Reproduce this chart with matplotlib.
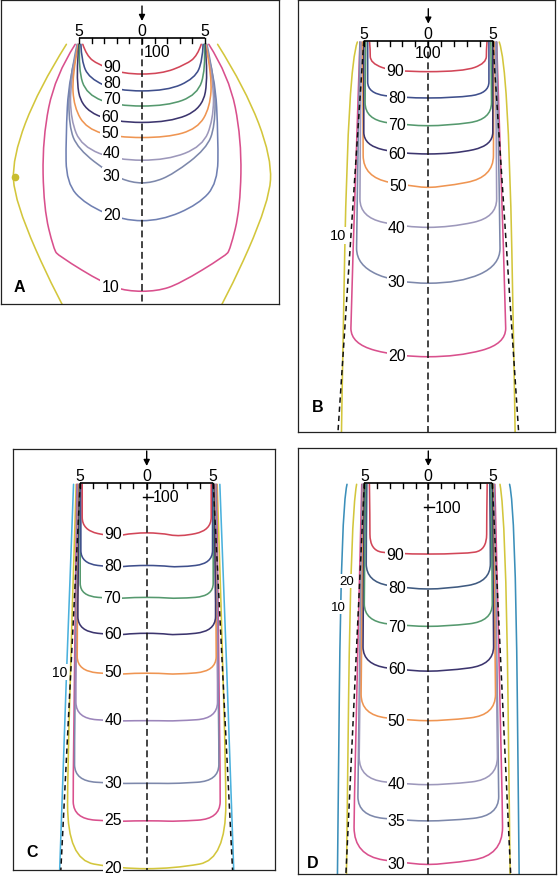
import matplotlib
matplotlib.use('Agg')
import matplotlib.pyplot as plt
from matplotlib.path import Path
from matplotlib.patches import PathPatch

plt.rcParams['font.family'] = ['Liberation Sans', 'DejaVu Sans']

W, H = 558, 879

# ---------------- colours ----------------
RED = '#d24658'; BLUE80 = '#3f4f8c'; GREEN = '#55996e'; NAVY = '#3c356e'
ORANGE = '#ef9552'; LAV = '#9d98bb'; SLATE = '#7d88ab'; SLATE20 = '#7080b2'
PINK = '#d9508d'; YELLOW = '#d3c63c'; CYAN = '#4bb1dd'; TEAL = '#3b8fba'

# ---------------- panel A ----------------
A_levels = ['90', '80', '70', '60', '50', '40', '30', '20', '10', '']
A_colors = [RED, BLUE80, GREEN, NAVY, ORANGE, LAV, SLATE, SLATE20, PINK, YELLOW]
A_curves = [
    [(4.7, 0.5), (4.4, 1.4), (3.5, 2.1), (1.5, 2.86)],
    [(4.85, 0.5), (4.8, 1.8), (4.2, 3.2), (2.0, 4.2)],
    [(4.95, 0.5), (5.05, 2.5), (4.4, 4.5), (2.0, 5.4)],
    [(5.0, 0.5), (5.25, 3.0), (4.8, 5.6), (2.2, 6.7)],
    [(5.05, 0.5), (5.55, 3.0), (5.4, 5.5), (4.4, 7.2), (2.0, 7.9)],
    [(5.1, 0.5), (5.7, 3.5), (5.65, 6.5), (4.8, 8.6), (2.0, 9.7)],
    [(5.15, 0.5), (5.8, 3.5), (5.8, 7.0), (5.1, 8.8), (2.5, 10.8), (0.8, 11.5)],
    [(5.0, 0.5), (5.8, 3.0), (6.05, 8.0), (6.0, 11.5), (4.5, 13.2), (1.5, 14.5)],
    [(5.3, 0.5), (6.9, 3.0), (7.9, 8.0), (7.8, 13.5), (7.0, 16.8), (6.6, 17.3),
     (3.0, 19.5), (1.2, 20.1)],
    [(6.0, 0.5), (8.2, 4.0), (10.3, 9.5), (10.1, 13.0), (6.8, 20.5), (3.5, 26.0), (1.0, 27.0)],
]
A_label_xy = [(-2.4, 2.3), (-2.4, 3.5), (-2.4, 4.8), (-2.5, 6.2), (-2.5, 7.5),
              (-2.4, 9.1), (-2.4, 10.9), (-2.4, 14.0), (-2.5, 19.7), None]
A_dot = (-10.1, 11.0)

# ---------------- panel B ----------------
B_levels = ['90', '80', '70', '60', '50', '40', '30', '20', '10']
B_colors = [RED, BLUE80, GREEN, NAVY, ORANGE, LAV, SLATE, PINK, YELLOW]
B_curves = [
    [(4.55, 0.1), (4.5, 0.7), (4.5, 1.74), (2.7, 2.4)],
    [(4.7, 0.1), (4.7, 2.32), (4.7, 4.08), (2.0, 4.44)],
    [(4.85, 0.1), (4.9, 3.5), (4.9, 6.11), (1.5, 6.59)],
    [(5.0, 0.1), (5.0, 6.08), (5.0, 8.12), (2.0, 8.78)],
    [(5.1, 0.1), (5.05, 7.2), (5.05, 10.59), (0.95, 11.37)],
    [(5.2, 0.1), (5.3, 10.85), (5.3, 13.69), (1.7, 14.47)],
    [(5.3, 0.1), (5.56, 14.8), (5.56, 17.4), (2.44, 18.8)],
    [(5.3, 0.1), (6.0, 21.1), (6.0, 23.5), (2.3, 24.5)],
    [(5.5, 0.1), (6.2, 2.0), (6.75, 30.5), (6.8, 36.0), (1.0, 36.0)],
]
B_label_xy = [(-2.6, 2.33), (-2.45, 4.39), (-2.45, 6.5), (-2.45, 8.73), (-2.36, 11.2),
              (-2.45, 14.47), (-2.45, 18.7), (-2.45, 24.4), (-6.98, 15.1)]
B_edge_slope = 0.066

# ---------------- panel C ----------------
C_levels = ['90', '80', '70', '60', '50', '40', '30', '25', '20', '10']
C_colors = [RED, BLUE80, GREEN, NAVY, ORANGE, '#9c86bb', SLATE, PINK, YELLOW, CYAN]
C_curves = [
    [(4.85, 0.1), (4.85, 1.6), (4.85, 3.55), (2.5, 4.05), (1.0, 3.75)],
    [(4.95, 0.1), (4.95, 4.1), (4.95, 6.05), (2.4, 6.35), (1.0, 6.2)],
    [(5.0, 0.1), (5.0, 6.6), (5.0, 8.5), (2.3, 8.7), (1.0, 8.6)],
    [(5.05, 0.1), (5.2, 9.0), (5.15, 11.15), (2.2, 11.45), (1.0, 11.3)],
    [(5.1, 0.1), (5.25, 12.0), (5.2, 14.15), (2.2, 14.4), (1.0, 14.3)],
    [(5.15, 0.1), (5.35, 15.3), (5.3, 17.7), (2.2, 17.9), (1.0, 17.87)],
    [(5.2, 0.1), (5.45, 20.0), (5.4, 22.4), (2.2, 22.6), (1.0, 22.58)],
    [(5.25, 0.1), (5.55, 22.7), (5.5, 25.25), (2.2, 25.45), (1.0, 25.4)],
    [(5.3, 0.1), (5.95, 20.0), (5.95, 28.3), (2.0, 29.0)],
    [(5.5, 0.1), (6.7, 32.0), (6.8, 40.0), (1.0, 40.0)],
]
C_label_xy = [(-2.51, 3.78), (-2.51, 6.22), (-2.6, 8.6), (-2.51, 11.3), (-2.51, 14.2),
              (-2.51, 17.8), (-2.51, 22.5), (-2.51, 25.3), (-2.51, 28.9), (-6.52, 14.2)]
C_edge_slope = 0.05

# ---------------- panel D ----------------
D_levels = ['90', '80', '70', '60', '50', '40', '35', '30', '20', '10']
D_colors = [RED, '#3f5a80', GREEN, NAVY, ORANGE, LAV, SLATE, PINK, YELLOW, TEAL]
D_curves = [
    [(4.6, 0.1), (4.56, 2.75), (4.56, 5.25), (2.74, 5.55)],
    [(4.8, 0.1), (4.85, 4.9), (4.85, 7.72), (1.4, 8.28)],
    [(4.9, 0.1), (5.0, 8.1), (5.0, 10.8), (1.4, 11.2)],
    [(5.0, 0.1), (5.1, 11.4), (5.1, 14.2), (1.3, 14.7)],
    [(5.05, 0.1), (5.25, 14.9), (5.25, 18.13), (1.3, 18.57)],
    [(5.1, 0.1), (5.4, 19.7), (5.4, 23.13), (1.4, 23.57)],
    [(5.15, 0.1), (5.5, 23.0), (5.5, 26.0), (1.5, 26.4)],
    [(5.2, 0.1), (5.8, 24.7), (5.8, 29.1), (1.2, 29.8)],
    [(5.6, 0.1), (6.05, 2.5), (6.4, 31.0), (6.5, 40.0), (1.0, 40.0)],
    [(6.35, 0.1), (6.8, 2.0), (7.1, 31.0), (7.2, 40.0), (1.0, 40.0)],
]
D_label_xy = [(-2.6, 5.55), (-2.47, 8.2), (-2.47, 11.2), (-2.47, 14.5), (-2.47, 18.57),
              (-2.47, 23.5), (-2.47, 26.4), (-2.47, 29.7), (-6.38, 7.63), (-7.03, 9.7)]
D_edge_slope = 0.047

# scale ticks (cm)
scale_ticks = list(range(-5, 6))


def curve_path(half):
    """Symmetric isodose line: right-half control points (top -> centre)."""
    pts = [(-x, y) for (x, y) in half] + [(x, y) for (x, y) in half[::-1]]
    verts = [pts[0]]
    codes = [Path.MOVETO]
    m = len(pts) - 1
    for i in range(1, m - 1):
        mid = ((pts[i][0] + pts[i + 1][0]) / 2, (pts[i][1] + pts[i + 1][1]) / 2)
        verts += [pts[i], mid]
        codes += [Path.CURVE3, Path.CURVE3]
    verts += [pts[m - 1], pts[m]]
    codes += [Path.CURVE3, Path.CURVE3]
    return Path(verts, codes)


fig = plt.figure(figsize=(W / 100, H / 100), dpi=100)


def make_axes(box, origin, s):
    L, T, R, B = box
    x0, y0 = origin
    ax = fig.add_axes([L / W, 1 - B / H, (R - L) / W, (B - T) / H])
    ax.set_xlim((L - x0) / s, (R - x0) / s)
    ax.set_ylim((B - y0) / s, (T - y0) / s)
    ax.set_xticks([]); ax.set_yticks([])
    for sp in ax.spines.values():
        sp.set_color('#222222'); sp.set_linewidth(0.9)
    return ax


def draw_panel(ax, s, levels, colors, curves, label_xy, letter, letter_xy,
               hundred, edge_slope=None, small_labels=((), 11.4), lab_fs=11.4):
    ymax = ax.get_ylim()[0]
    # isodose curves (outer first)
    for half, col in list(zip(curves, colors))[::-1]:
        ax.add_patch(PathPatch(curve_path(half), fill=False, ec=col, lw=1.15,
                               zorder=2, capstyle='round'))
    # beam edges
    if edge_slope is not None:
        for sgn in (-1, 1):
            ax.plot([sgn * 5, sgn * (5 + edge_slope * ymax)], [0, ymax],
                    color='#111111', lw=1.1, ls=(0, (3.5, 2.5)), zorder=3)
    # central axis
    ax.plot([0, 0], [0, ymax], color='#111111', lw=1.1, ls=(0, (4.5, 2.5)), zorder=3)
    # scale
    ax.plot([-5, 5], [0, 0], color='black', lw=1.2, zorder=5, solid_capstyle='butt')
    for t in scale_ticks:
        ax.plot([t, t], [0, 5.0 / s], color='black', lw=1.0, zorder=5)
    ny = -7.5 / s
    for xv, tx in ((-5, '5'), (0, '0'), (5, '5')):
        ax.text(xv, ny, tx, ha='center', va='center', fontsize=11.4, zorder=6)
    ax.annotate('', xy=(0, -17.0 / s), xytext=(0, -32.0 / s),
                arrowprops=dict(arrowstyle='-|>', color='black', lw=1.0,
                                mutation_scale=9, shrinkA=0, shrinkB=0),
                zorder=6, annotation_clip=False)
    # 100 marker
    hx, hy, ha, tick = hundred
    if tick:
        ax.plot([-4.0 / s, 6.0 / s], [hy, hy], color='black', lw=1.0, zorder=5)
    ax.text(hx, hy, '100', ha=ha, va='center', fontsize=11.4, zorder=6)
    # labels
    for lab, xy in zip(levels, label_xy):
        if xy is None or not lab:
            continue
        fs = small_labels[1] if (lab in small_labels[0] and xy[0] < -5) else lab_fs
        ax.text(xy[0], xy[1], lab, ha='center', va='center', fontsize=fs, zorder=7,
                clip_on=False,
                bbox=dict(boxstyle='square,pad=0.08', fc='white', ec='none'))
    ax.text(letter_xy[0], letter_xy[1], letter, transform=ax.transAxes,
            ha='center', va='center', fontsize=11.5, fontweight='bold', zorder=8)


# Panel A
axA = make_axes((1, 1, 279, 305), (142, 39), 12.6)
draw_panel(axA, 12.6, A_levels, A_colors, A_curves, A_label_xy, 'A', (0.065, 0.059),
           (0.12, 1.1, 'left', False))
axA.plot([A_dot[0]], [A_dot[1]], 'o', color='#c9bd30', ms=4.5, zorder=4)

# Panel B
axB = make_axes((298, 1, 555, 433), (428.3, 41.7), 12.9)
draw_panel(axB, 12.9, B_levels, B_colors, B_curves, B_label_xy, 'B', (0.078, 0.06),
           (0.0, 0.9, 'center', False), B_edge_slope, (['10'], 10.5))

# Panel C
axC = make_axes((13, 450, 275, 871), (146.7, 484), 13.3)
draw_panel(axC, 13.3, C_levels, C_colors, C_curves, C_label_xy, 'C', (0.073, 0.043),
           (0.45, 1.05, 'left', True), C_edge_slope, (['10'], 10.0))

# Panel D
axD = make_axes((298, 449, 556, 875), (428.3, 484), 12.8)
draw_panel(axD, 12.8, D_levels, D_colors, D_curves, D_label_xy, 'D', (0.058, 0.028),
           (0.5, 1.9, 'left', True), D_edge_slope, (['10', '20'], 9.5))

fig.savefig('out.png', dpi=100)
